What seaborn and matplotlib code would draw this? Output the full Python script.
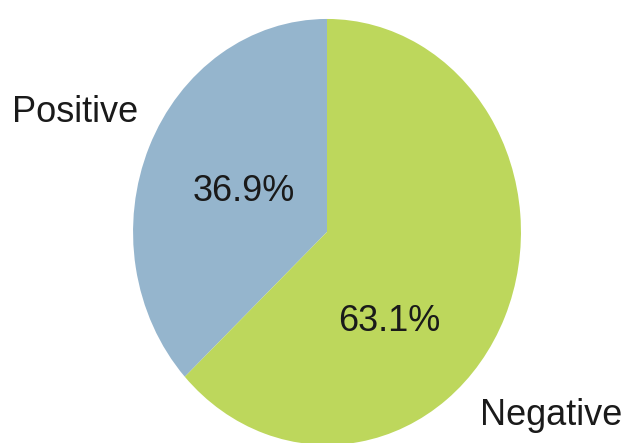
import matplotlib
matplotlib.use("Agg")
import matplotlib.pyplot as plt
import seaborn as sns

# Share of results by outcome
categories = ["Positive", "Negative"]
shares = [36.9, 63.1]
slice_colors = ["#95B5CD", "#BDD75C"]

sns.set_theme(style="white")
plt.rcParams["font.family"] = ["Liberation Sans", "DejaVu Sans"]

fig = plt.figure(figsize=(6.29, 4.43), dpi=100)
ax = fig.add_axes([0, 0, 1, 1])

ax.pie(shares, colors=slice_colors, startangle=90, counterclock=True,
       radius=1.0, wedgeprops=dict(linewidth=0))

# Stretch the pie slightly taller than wide
ax.set_aspect("auto")
ax.set_xlim(-1.686, 1.557)
ax.set_ylim(-0.991, 1.089)
ax.axis("off")

# Percent labels inside the slices
pct_pos = {"Positive": (-0.428, 0.146), "Negative": (0.32, -0.465)}
for cat, val in zip(categories, shares):
    x, y = pct_pos[cat]
    ax.text(x, y, f"{val:.1f}%", ha="center", va="baseline",
            fontsize=26, color="#1a1a1a")

# Category names outside the pie
ax.text(-1.625, 0.516, categories[0], ha="left", va="baseline",
        fontsize=26, color="#1a1a1a")
ax.text(0.789, -0.906, categories[1], ha="left", va="baseline",
        fontsize=26, color="#1a1a1a")

fig.savefig("out.png", dpi=100, facecolor="white")
